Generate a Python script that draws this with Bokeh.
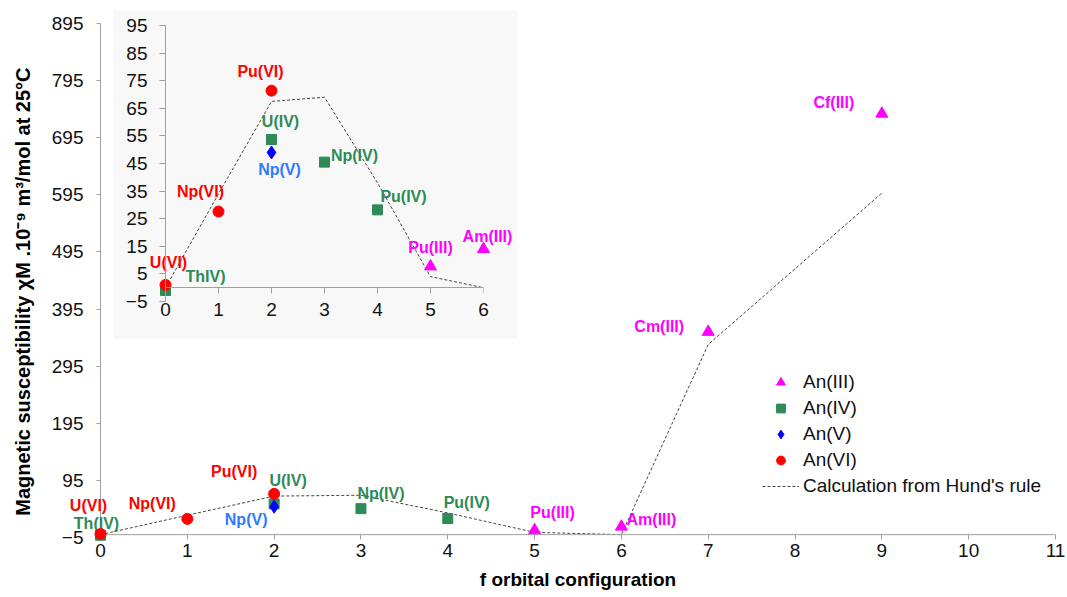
from bokeh.plotting import figure
from bokeh.models import (Range1d, FixedTicker, Span, Legend, LegendItem,
                          ColumnDataSource, GridBox, LinearAxis)
from bokeh.core.properties import value
from bokeh.embed import file_html
from bokeh.resources import INLINE

# ---------------- data ----------------
hund_x = [0, 1, 2, 3, 4, 5, 6, 7, 9]
hund_y = [0, 34, 67.5, 69, 38, 4, 0, 333, 598]

an3_names = ["Pu(III)", "Am(III)", "Cm(III)", "Cf(III)"]
an3_x = [5, 6, 7, 9]
an3_y = [7.7, 14, 355, 737]

an4_names = ["Th(IV)", "U(IV)", "Np(IV)", "Pu(IV)"]
an4_inset_names = ["ThIV)", "U(IV)", "Np(IV)", "Pu(IV)"]
an4_x = [0, 2, 3, 4]
an4_y = [-1, 53.7, 45.5, 28.2]

an5_names = ["Np(V)"]
an5_x = [2]
an5_y = [49]

an6_names = ["U(VI)", "Np(VI)", "Pu(VI)"]
an6_x = [0, 1, 2]
an6_y = [1, 27.6, 71.4]

main_x_ticks = list(range(0, 12))
main_y_ticks = list(range(-5, 896, 100))
inset_x_ticks = list(range(0, 7))
inset_y_ticks = list(range(-5, 96, 10))

series_labels = ["An(III)", "An(IV)", "An(V)", "An(VI)", "Calculation from Hund's rule"]
x_title = "f orbital configuration"
y_title = "Magnetic susceptibility \u03c7M .10\u207b\u2079 m\u00b3/mol at 25\u00b0C"

# ---------------- styles / geometry ----------------
FONT = value("Liberation Sans")
C3, C4, C5, C6 = "#FF00FF", "#2E8B57", "#0000FF", "#FF0000"
C5_TXT = "#2F7BFF"
AX = "#a0a0a0"
PANEL = "#f8f8f8"

W, H = 1067, 597
B_L, B_R, B_T, B_B = 100, 12, 23, 60          # shared borders (grid syncs them)
INS_X, INS_Y = 65, 2                           # inset figure offset
INS_W, INS_H = 430, 359
MX0, MX1, MY0, MY1 = 0, 11, -5, 895
IX0, IX1, IY0, IY1 = 0, 6, -5, 95
PANEL_PX = (113, 517, 10, 338)                 # inset grey panel: left, right, top, bottom (px)

# marker styles: (marker, size)
M3 = ("triangle", 12)
M4 = ("square", 10)
M5 = ("diamond", 13)
M6 = ("circle", 11)

# label pixel offsets (style only)
main_off = {
    "an3": ([18, 30, -49, -48], [-18, -7, -5, -11]),
    "an4": ([-4, 14, 20, 19], [-12, -23, -15, -16]),
    "an5": ([-28], [13]),
    "an6": ([-12, -35, -40], [-29, -15, -22]),
}
inset_off = {
    "an3": ([0, 4], [-19, -13]),
    "an4": ([40, 9, 30, 26], [-14, -18, -7, -13]),
    "an5": ([8], [17]),
    "an6": ([3, -18, -11], [-22, -20, -19]),
}


def add_series(fig, xs, ys, names, mstyle, color, txt_color, off, **rng):
    marker, size = mstyle
    dx, dy = off
    src = ColumnDataSource(dict(x=xs, y=ys, name=names, dx=dx, dy=dy))
    r = fig.scatter("x", "y", source=src, marker=marker, size=size,
                    fill_color=color, line_color=color, level="overlay", **rng)
    fig.text("x", "y", text="name", source=src, x_offset="dx", y_offset="dy",
             text_align="center", text_baseline="middle", text_font=FONT,
             text_font_style="bold", text_font_size="16px", text_color=txt_color,
             level="overlay", **rng)
    return r


def style_axis(ax):
    ax.major_label_text_font = "Liberation Sans"
    ax.major_label_text_font_size = "19px"
    ax.major_label_text_color = "#111111"
    ax.minor_tick_line_color = None
    ax.major_tick_line_color = AX
    ax.axis_line_color = AX


# ---------------- main figure ----------------
p = figure(width=W, height=H, x_range=Range1d(MX0, MX1), y_range=Range1d(MY0, MY1),
           output_backend="svg", toolbar_location=None,
           min_border_left=B_L, min_border_right=B_R, min_border_top=B_T, min_border_bottom=B_B)
p.outline_line_color = None
p.xgrid.visible = False
p.ygrid.visible = False

style_axis(p.xaxis[0])
style_axis(p.yaxis[0])
p.xaxis.ticker = FixedTicker(ticks=main_x_ticks)
p.yaxis.ticker = FixedTicker(ticks=main_y_ticks)
p.xaxis.axis_line_color = None
p.xaxis.major_tick_in = 3
p.xaxis.major_tick_out = 2
p.xaxis.major_label_standoff = 4
p.yaxis.major_tick_in = 0
p.yaxis.major_tick_out = 4
p.yaxis.major_label_standoff = 13

p.xaxis.axis_label = x_title
p.yaxis.axis_label = y_title + "\u00a0\u00a0\u00a0\u00a0"
for ax in (p.xaxis[0], p.yaxis[0]):
    ax.axis_label_text_font = "Liberation Sans"
    ax.axis_label_text_font_style = "bold"
    ax.axis_label_text_color = "#000000"
p.xaxis.axis_label_text_font_size = "19px"
p.yaxis.axis_label_text_font_size = "20px"
p.xaxis.axis_label_standoff = 9
p.yaxis.axis_label_standoff = 15

p.add_layout(Span(location=0, dimension="width", line_color=AX, line_width=1))

# pixel geometry of the main frame and of the inset frame
fw = W - B_L - B_R
fh = H - B_T - B_B
sx = (MX1 - MX0) / fw
sy = (MY1 - MY0) / fh
ifl, ifr = INS_X + B_L, INS_X + INS_W - B_R
ift, ifb = INS_Y + B_T, INS_Y + INS_H - B_B
ux = (IX1 - IX0) / (ifr - ifl)
uy = (IY1 - IY0) / (ifb - ift)
ix_start = IX0 - (ifl - B_L) * ux
iy_end = IY1 + (ift - B_T) * uy
p.extra_x_ranges = {"ix": Range1d(ix_start, ix_start + fw * ux)}
p.extra_y_ranges = {"iy": Range1d(iy_end - fh * uy, iy_end)}
IR = dict(x_range_name="ix", y_range_name="iy")

# grey panel behind the inset
p.quad(left=[MX0 + (PANEL_PX[0] - B_L) * sx], right=[MX0 + (PANEL_PX[1] - B_L) * sx],
       top=[MY1 - (PANEL_PX[2] - B_T) * sy], bottom=[MY1 - (PANEL_PX[3] - B_T) * sy],
       fill_color=PANEL, line_color=None, level="overlay")

# main data
hund = p.line(hund_x, hund_y, line_color="#444444", line_width=1, line_dash="3 2")
r3 = add_series(p, an3_x, an3_y, an3_names, M3, C3, C3, main_off["an3"])
r4 = add_series(p, an4_x, an4_y, an4_names, M4, C4, C4, main_off["an4"])
r5 = add_series(p, an5_x, an5_y, an5_names, M5, C5, C5_TXT, main_off["an5"])
r6 = add_series(p, an6_x, an6_y, an6_names, M6, C6, C6, main_off["an6"])

# inset data (drawn through the inset scales)
p.line(hund_x[:7], hund_y[:7], line_color="#444444", line_width=1, line_dash="3 2",
       level="overlay", **IR)
add_series(p, an3_x[:2], an3_y[:2], an3_names[:2], M3, C3, C3, inset_off["an3"], **IR)
add_series(p, an4_x, an4_y, an4_inset_names, M4, C4, C4, inset_off["an4"], **IR)
add_series(p, an5_x, an5_y, an5_names, M5, C5, C5_TXT, inset_off["an5"], **IR)
add_series(p, an6_x, an6_y, an6_names, M6, C6, C6, inset_off["an6"], **IR)

legend = Legend(items=[LegendItem(label=series_labels[0], renderers=[r3]),
                       LegendItem(label=series_labels[1], renderers=[r4]),
                       LegendItem(label=series_labels[2], renderers=[r5]),
                       LegendItem(label=series_labels[3], renderers=[r6]),
                       LegendItem(label=series_labels[4], renderers=[hund])],
                location=(662, 40), orientation="vertical",
                glyph_width=37, glyph_height=22, label_height=22,
                label_standoff=4, spacing=4, padding=0, margin=0,
                border_line_color=None, background_fill_alpha=0,
                label_text_font="Liberation Sans", label_text_font_size="19px",
                label_text_color="#111111")
p.add_layout(legend)

# ---------------- inset axes (transparent figure overlaid) ----------------
ins = figure(width=INS_W, height=INS_H, x_range=Range1d(IX0, IX1), y_range=Range1d(IY0, IY1),
             output_backend="svg", toolbar_location=None,
             min_border_left=B_L, min_border_right=B_R, min_border_top=B_T, min_border_bottom=B_B,
             background_fill_color=None, border_fill_color=None,
             margin=(INS_Y, 0, 0, INS_X))
ins.outline_line_color = None
ins.xgrid.visible = False
ins.ygrid.visible = False
style_axis(ins.xaxis[0])
style_axis(ins.yaxis[0])
ins.xaxis.ticker = FixedTicker(ticks=inset_x_ticks)
ins.yaxis.ticker = FixedTicker(ticks=inset_y_ticks)
ins.xaxis.axis_line_color = None
ins.xaxis.major_tick_line_color = None
ins.xaxis.major_tick_in = 0
ins.xaxis.major_tick_out = 0
ins.xaxis.major_label_standoff = 1
zero_axis = LinearAxis(ticker=FixedTicker(ticks=inset_x_ticks), fixed_location=0,
                       axis_line_color=AX, major_tick_line_color=AX,
                       major_tick_in=0, major_tick_out=6, minor_tick_line_color=None,
                       major_label_text_color=None, major_label_text_font_size="1px",
                       major_label_standoff=0)
ins.add_layout(zero_axis, "below")
ins.yaxis.major_tick_in = 0
ins.yaxis.major_tick_out = 6
ins.yaxis.major_label_standoff = 12

layout = GridBox(children=[(p, 0, 0), (ins, 0, 0)])

open("out.html", "w").write(file_html(layout, INLINE))
